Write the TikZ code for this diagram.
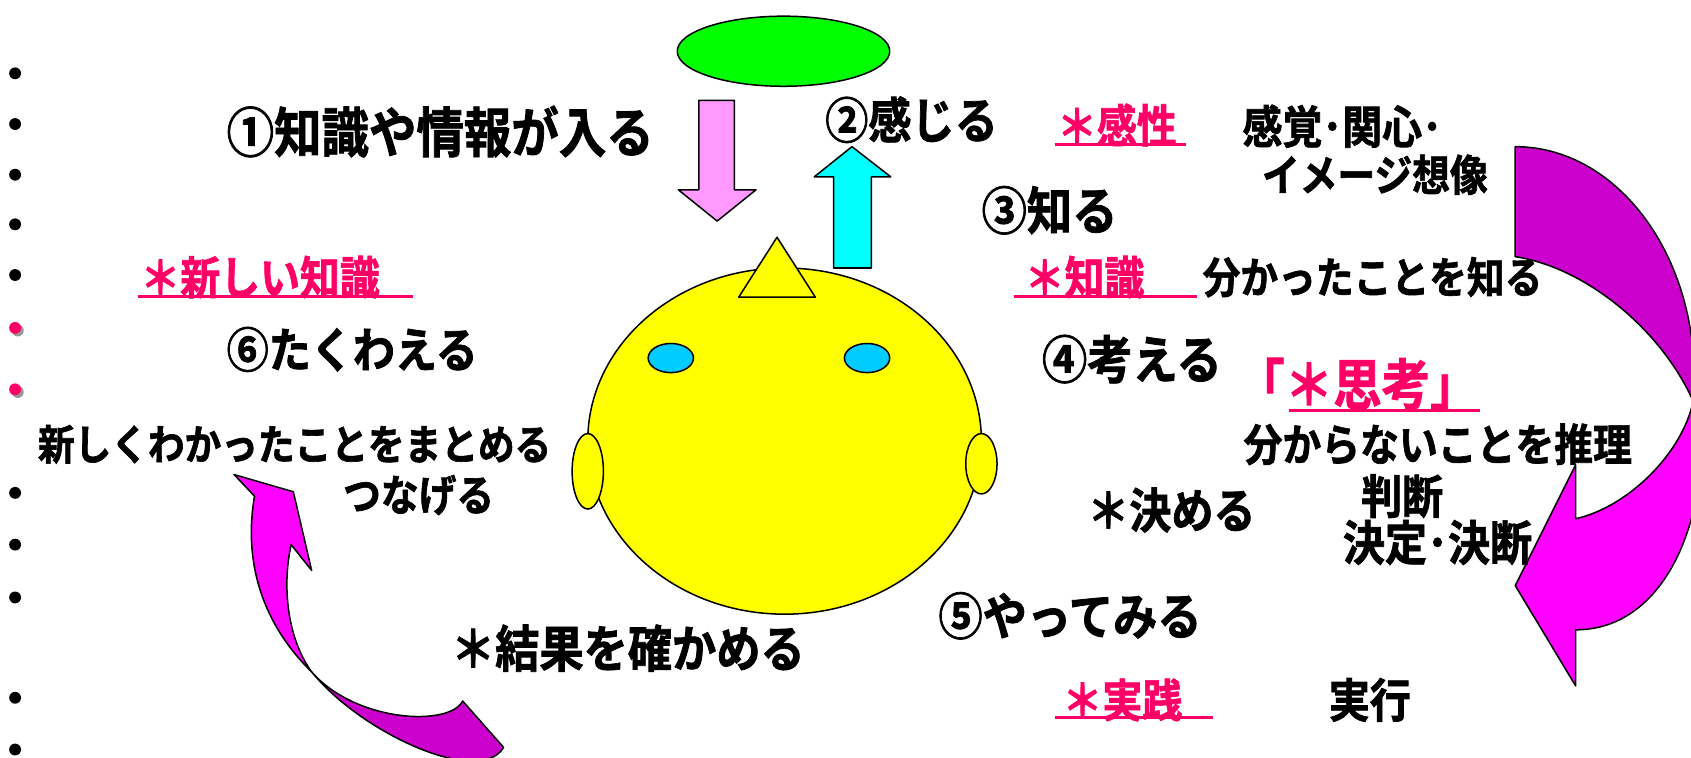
\documentclass[tikz,border=0pt]{standalone}
\usepackage{fontspec}
\newfontfamily\jp{Noto Sans CJK JP Bold}[FakeStretch=0.88, FakeBold=1.5]
\usetikzlibrary{shapes.geometric}

\definecolor{pinktext}{RGB}{255,0,102}
\definecolor{haloGreen}{RGB}{0,255,0}
\definecolor{faceYellow}{RGB}{255,255,0}
\definecolor{eyeBlue}{RGB}{0,204,255}
\definecolor{upCyan}{RGB}{0,255,255}
\definecolor{downPink}{RGB}{255,153,255}
\definecolor{bandLight}{RGB}{255,0,255}
\definecolor{bandDark}{RGB}{204,0,204}
\definecolor{dotShadow}{RGB}{150,150,150}

\tikzset{
  outline/.style={draw=black, line width=1.4pt, line join=round},
  oval/.style={ellipse, outline, inner sep=0pt},
  % #1 is the advance of one full-width character
  txt/.style={anchor=west, inner sep=0pt, text=black,
    font=\jp\fontsize{\fpeval{#1/0.88}}{\fpeval{#1/0.88}}\selectfont},
  ptxt/.style={txt=#1, text=pinktext},
  uline/.style={draw=pinktext, line width=2.6pt},
  bdot/.style={circle, fill=black, inner sep=0pt, outer sep=0pt, minimum size=11pt},
  pdot/.style={circle, fill=pinktext, inner sep=0pt, outer sep=0pt, minimum size=11pt},
  sdot/.style={circle, fill=dotShadow, inner sep=0pt, outer sep=0pt, minimum size=11pt},
}

\begin{document}
\begin{tikzpicture}[x=1pt, y=-1pt]
\useasboundingbox (0,0) rectangle (1568,702);

% bullet column
\foreach \yy [count=\i] in {68,115,162,208,255,457,505,554,647,695}
  \node[bdot] (b\i) at (14,\yy) {};
\node[sdot] (ps1) at (16.5,306.5) {};
\node[pdot] (p1) at (14,304) {};
\node[sdot] (ps2) at (16.5,363.5) {};
\node[pdot] (p2) at (14,361) {};

% halo above the head
\node[oval, fill=haloGreen, minimum width=197pt, minimum height=65pt] (halo) at (726.5,47.5) {};

% incoming (down) and outgoing (up) arrows
\draw[outline, fill=downPink] (648,93) -- (681,93) -- (681,176) -- (701,176)
  -- (665,205) -- (629,176) -- (648,176) -- cycle;
\draw[outline, fill=upCyan] (773,248.5) -- (773,164) -- (755,164) -- (790,136)
  -- (826,164) -- (808,164) -- (808,248.5) -- cycle;

% head
\node[oval, fill=faceYellow, minimum width=365pt, minimum height=321pt] (face) at (727.5,409) {};
\node[oval, fill=faceYellow, minimum width=29pt, minimum height=70pt] (earL) at (545,437) {};
\node[oval, fill=faceYellow, minimum width=29pt, minimum height=56pt] (earR) at (910,430) {};
\node[oval, fill=eyeBlue, minimum width=42pt, minimum height=27pt] (eyeL) at (622,332) {};
\node[oval, fill=eyeBlue, minimum width=42pt, minimum height=27pt] (eyeR) at (804,332) {};
\draw[outline, fill=faceYellow] (685,275.5) -- (720.5,220) -- (756,275.5) -- cycle;

% curved arrow on the right: back band, then front band with head
\draw[outline, fill=bandDark] (1405,136)
  .. controls (1497,136) and (1571,232) .. (1571,350)
  -- (1570,372)
  .. controls (1540,305) and (1470,248) .. (1405,238) -- cycle;
\draw[outline, fill=bandLight] (1570,372)
  .. controls (1592,440) and (1560,584) .. (1461,584)
  -- (1461,636) -- (1405,543) -- (1461,431) -- (1461,481)
  .. controls (1510,470) and (1560,420) .. (1570,372) -- cycle;

% curved arrow on the left: back band, then front band with head
\draw[outline, fill=bandDark] (289,623) .. controls (330,670) and (417,674) .. (429,650)
  -- (467,693) .. controls (445,730) and (335,680) .. (289,623) -- cycle;
\draw[outline, fill=bandLight] (289,623) .. controls (250,585) and (224,530) .. (236,460)
  -- (217,440) -- (272,456) -- (289,529) -- (270,505)
  .. controls (262,540) and (265,590) .. (289,623) -- cycle;

% step labels
\node[txt=44] (s1) at (210,122) {①知識や情報が入る};
\node[txt=40] (s2) at (765,111) {②感じる};
\node[txt=42] (s3) at (910,195) {③知る};
\node[txt=42] (s4) at (966,333) {④考える};
\node[txt=41] (s5) at (870,571) {⑤やってみる};
\node[txt=39] (s6) at (210,324) {⑥たくわえる};

% keywords
\node[ptxt=37] (kansei) at (980,116) {＊感性};
\draw[uline] (978,134) -- (1100,134);
\node[txt=37] (kansei d) at (1152,117) {感覚･関心･};
\node[txt=35] (kansei e) at (1170,162) {イメージ想像};

\node[ptxt=37] (chishiki) at (950,257) {＊知識};
\draw[uline] (940,275) -- (1110,275);
\node[txt=35] (chishiki d) at (1115,257) {分かったことを知る};

\node[ptxt=45] (shikou) at (1146,356) {「＊思考」};
\draw[uline] (1195,381) -- (1372,381);
\node[txt=36] (shikou d) at (1153,412) {分からないことを推理};
\node[txt=38] (handan) at (1262,460) {判断};
\node[txt=39] (kettei) at (1245,503) {決定･決断};
\node[txt=39] (kimeru) at (1008,473) {＊決める};

\node[ptxt=37] (jissen) at (985,649) {＊実践};
\draw[uline] (978,665) -- (1125,665);
\node[txt=38] (jikkou) at (1232,649) {実行};

\node[txt=41] (kakunin) at (418,601) {＊結果を確かめる};

\node[ptxt=37] (atarashii) at (130,257) {＊新しい知識};
\draw[uline] (128,275) -- (383,275);
\node[txt=34] (matome) at (35,412) {新しくわかったことをまとめる};
\node[txt=35] (tsunageru) at (318,459) {つなげる};

\end{tikzpicture}
\end{document}
